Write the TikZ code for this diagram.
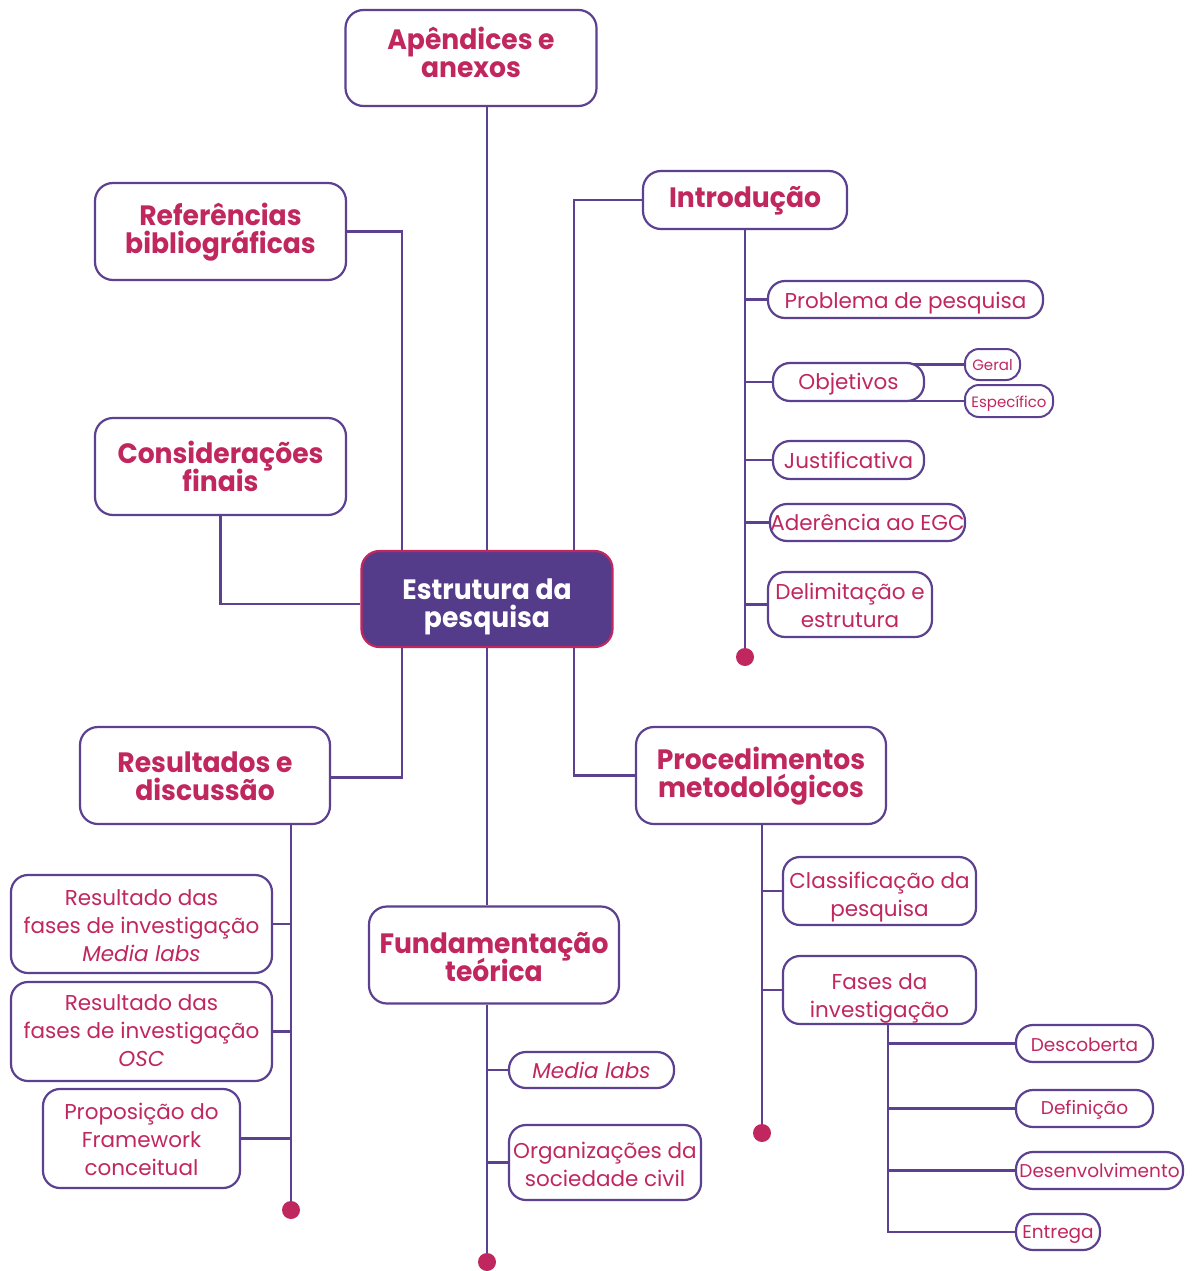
\documentclass[tikz,border=0pt]{standalone}
\usepackage{fontspec}
\setmainfont{Poppins}
\newfontfamily\titlefont{Poppins}[FakeStretch=0.95]
\usetikzlibrary{backgrounds}
\definecolor{linec}{HTML}{5B4190}
\definecolor{txt}{HTML}{C1275F}
\definecolor{core}{HTML}{553C8A}
\newcommand\tightlines{\lineskiplimit=-40pt\relax}
\tikzset{
  x=1pt, y=-1pt,
  link/.style={draw=linec, line width=2.4pt},
  % bl=<d>: the last baseline sits d/2 below the box centre
  bl/.style={text depth=0pt, text height=#1},
  mainbox/.style={draw=linec, line width=2.2pt, rounded corners=18pt, fill=white,
    text=txt, font={\titlefont\bfseries\fontsize{28}{28}\selectfont\tightlines},
    align=center, inner sep=0pt},
  subbox/.style={draw=linec, line width=2.2pt, rounded corners=17pt, fill=white,
    text=txt, font={\fontsize{21.5}{28}\selectfont\tightlines},
    align=center, inner sep=0pt},
  tinybox/.style={draw=linec, line width=2pt, rounded corners=14pt, fill=white,
    text=txt, font=\fontsize{15}{16}\selectfont, align=center, inner sep=0pt},
  phase/.style={subbox, font=\fontsize{18.5}{20}\selectfont},
  endpt/.style={circle, fill=txt, minimum size=18pt, inner sep=0pt},
}
\begin{document}
\begin{tikzpicture}
\useasboundingbox (0,0) rectangle (1192,1271);

% central node
\node[mainbox, bl=56pt, fill=core, draw=txt, text=white, minimum width=251pt, minimum height=96pt]
  (core) at (487,599) {Estrutura da\\pesquisa};

% main topics
\node[mainbox, bl=40pt, minimum width=251pt, minimum height=96pt] (apx) at (471,58) {Apêndices e\\anexos};
\node[mainbox, bl=44pt, minimum width=251pt, minimum height=97pt] (ref) at (220.5,231.5) {Referências\\bibliográficas};
\node[mainbox, bl=50pt, minimum width=251pt, minimum height=97pt] (cons) at (220.5,466.5) {Considerações\\finais};
\node[mainbox, bl=14pt, minimum width=204pt, minimum height=58pt] (intro) at (745,200) {Introdução};
\node[mainbox, bl=50pt, minimum width=250pt, minimum height=97pt] (res) at (205,775.5) {Resultados e\\discussão};
\node[mainbox, bl=44pt, minimum width=250pt, minimum height=97pt] (proc) at (761,775.5) {Procedimentos\\metodológicos};
\node[mainbox, bl=52pt, minimum width=250pt, minimum height=97pt] (fund) at (494,955) {Fundamentação\\teórica};

% introduction items
\node[subbox, bl=18pt, minimum width=275pt, minimum height=37pt] (prob) at (905.5,299.5) {Problema de pesquisa};
\node[subbox, bl=14pt, minimum width=151pt, minimum height=38pt] (obj) at (848.5,382) {Objetivos};
\node[tinybox, bl=12pt, minimum width=55pt, minimum height=31pt] (geral) at (992.5,364.5) {Geral};
\node[tinybox, bl=12pt, minimum width=88pt, minimum height=32pt] (espec) at (1009,401) {Específico};
\node[subbox, bl=16pt, minimum width=151pt, minimum height=38pt] (just) at (848.5,460) {Justificativa};
\node[subbox, bl=15pt, minimum width=195pt, minimum height=37pt] (ader) at (867.5,522.5) {Aderência ao EGC};
\node[subbox, bl=45pt, minimum width=164pt, minimum height=65pt] (delim) at (850,604.5) {Delimitação e\\estrutura};
\coordinate (idot) at (745,657);

% methodological procedures items
\node[subbox, bl=50pt, minimum width=193pt, minimum height=68pt] (class) at (879.5,891) {Classificação da\\pesquisa};
\node[subbox, bl=54pt, minimum width=193pt, minimum height=68pt] (fases) at (879.5,990) {Fases da\\investigação};
\node[phase, bl=15pt, minimum width=137pt, minimum height=37pt] (desc) at (1084.5,1043.5) {Descoberta};
\node[phase, bl=11pt, minimum width=137pt, minimum height=37pt] (defi) at (1084.5,1108.5) {Definição};
\node[phase, bl=13pt, minimum width=167pt, minimum height=37pt] (desen) at (1099.5,1170.5) {Desenvolvimento};
\node[phase, bl=12pt, minimum width=84pt, minimum height=36pt] (entr) at (1058,1232) {Entrega};
\coordinate (pdot) at (762,1133);
\coordinate (fstem) at (888,1024);

% results items
\node[subbox, bl=74pt, minimum width=261pt, minimum height=98pt] (r1) at (141.5,924) {Resultado das\\fases de investigação\\\textit{Media labs}};
\node[subbox, bl=69pt, minimum width=261pt, minimum height=99pt] (r2) at (141.5,1031.5) {Resultado das\\fases de investigação\\\textit{OSC}};
\node[subbox, bl=73pt, minimum width=197pt, minimum height=99pt] (r3) at (141.5,1138.5) {Proposição do\\Framework\\conceitual};
\coordinate (rstem) at (291,824);
\coordinate (rdot) at (291,1210);

% theoretical foundation items
\node[subbox, bl=16pt, minimum width=165pt, minimum height=36pt] (ml) at (591.5,1070) {\textit{Media labs}};
\node[subbox, bl=47pt, minimum width=192pt, minimum height=75pt] (osc) at (605,1162.5) {Organizações da\\sociedade civil};
\coordinate (fdot) at (487,1262);

\begin{pgfonlayer}{background}
  % branches from the central node
  \draw[link] (apx.south -| core.north) -- (core.north);
  \draw[link] (ref.east) -| ([xshift=-85pt]core.north);
  \draw[link] (intro.west) -| ([xshift=87pt]core.north);
  \draw[link] (cons.south) |- ([yshift=-5pt]core.west);
  \draw[link] ([xshift=-85pt]core.south) |- ([yshift=-2pt]res.east);
  \draw[link] ([xshift=87pt]core.south) |- (proc.west);
  \draw[link] (core.south) -- (fund.north -| core.south);

  % introduction
  \draw[link] (intro.south) -- (idot);
  \foreach \n in {prob,obj,just,ader,delim} \draw[link] (idot |- \n.west) -- (\n.west);
  \draw[link] (obj.center |- geral.west) -- (geral.west);
  \draw[link] (obj.center |- espec.west) -- (espec.west);

  % procedures
  \draw[link] (proc.south -| pdot) -- (pdot);
  \foreach \n in {class,fases} \draw[link] (pdot |- \n.west) -- (\n.west);
  \draw[link] (fstem) |- (entr.west);
  \foreach \n in {desc,defi,desen} \draw[link] (fstem |- \n.west) -- (\n.west);

  % results
  \draw[link] (rstem) -- (rdot);
  \foreach \n in {r1,r2,r3} \draw[link] (rdot |- \n.east) -- (\n.east);

  % theoretical foundation
  \draw[link] (fund.south -| core.south) -- (fdot);
  \foreach \n in {ml,osc} \draw[link] (fdot |- \n.west) -- (\n.west);
\end{pgfonlayer}

% end markers
\node[endpt] (idotm) at (idot) {};
\node[endpt] (pdotm) at (pdot) {};
\node[endpt] (rdotm) at (rdot) {};
\node[endpt] (fdotm) at (fdot) {};
\end{tikzpicture}
\end{document}
